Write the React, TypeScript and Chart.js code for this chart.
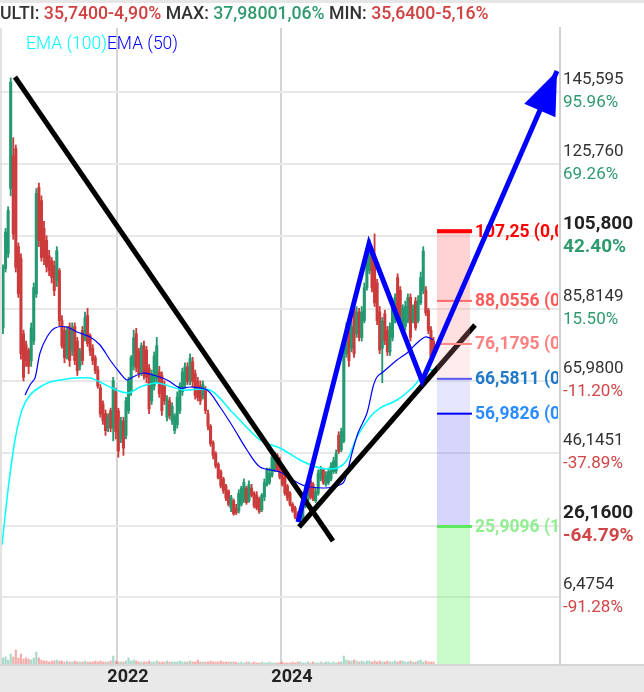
import React, { useEffect, useRef } from 'react';
import { Chart, registerables } from 'chart.js';

Chart.register(...registerables);

// ---------- candle data (weekly-ish, price) ----------
const FIRST_CANDLE_YEAR = 2020.6098;
const CANDLE_STEP = 1 / 32;

const OPEN = [
  80.6, 97, 101, 119, 128, 130, 103, 99.7, 79, 76, 74.5, 71.6, 77, 90, 119.3, 115.7,
  108, 104.7, 100.5, 99.2, 97.8, 93.7, 96.4, 82.6, 79.9, 73, 81, 74.3, 81, 77, 70, 79.9, 77.9, 84, 78.5, 75, 72.4, 69, 64.1, 59.7, 57,
  53, 57.8, 53, 63, 57.8, 50, 55, 51, 57.8, 63.3, 70, 79, 74.3, 68.5, 75.7, 74.5, 69.5, 60.5, 64.6, 66.5,
  68.5, 67.5, 64.6, 56, 60.5, 55, 52.3, 54, 57.8, 63, 65, 69.9, 66, 71.3, 68, 66, 64.6, 62, 63.3, 57, 53.5, 49, 46, 43, 41, 39, 37, 35.7, 31, 33,
  31, 30.2, 32, 33, 36.5, 33, 36.5, 35, 34.5, 33.5, 30.5, 34, 37.5, 38, 40, 41.5, 45.5, 44, 41.5, 39.5, 37, 35, 32, 31, 29.5, 27.8, 28.5, 31.5, 33, 38.5, 37.5, 33, 35, 39, 41.5, 37.5, 38, 39, 41, 41.2, 51, 47,
  49.5, 73.5, 82.6, 75, 86, 79, 85, 78, 82.6, 91.7, 96.4, 102, 98.4, 93, 85, 75, 84.5, 79.9, 74, 78, 83, 94.5, 91, 80.5, 81, 82.6, 89, 82.6, 88, 82.6, 87.5, 90.9, 90.9, 85.4, 79.9, 77,
];
const HIGH = [
  98, 108, 114, 149.5, 133, 131, 104, 101, 80, 77, 75, 82, 93, 119, 120.5, 117,
  110, 106, 102, 100, 99, 103, 97, 84, 81, 81, 82, 82, 82, 78, 75, 81, 85, 86, 79, 76, 73, 70, 65, 60.5, 58,
  57, 58.5, 67, 64, 58.5, 56, 56, 61.5, 67, 73, 80, 80.5, 75, 76.5, 77, 75.5, 70.5, 69, 74, 78,
  70, 68.5, 66, 62, 61.5, 60, 57, 63, 65.5, 69.5, 71, 71, 73.5, 72.5, 69, 67, 66, 66, 64.5, 58, 54, 49.5, 46.5, 43.5, 41.5, 39.5, 37.5, 36, 34.5, 33.5,
  32, 36, 37, 39, 37, 38.5, 37.5, 35.5, 35.5, 34, 35, 39, 42, 42, 46, 46.5, 46, 45, 42, 40, 37.5, 35.5, 32.5, 31.5, 30, 31, 33, 37.5, 38.5, 39.5, 38, 36.5, 41.5, 42.5, 42, 41, 42, 43.5, 45, 47, 52, 53,
  76.5, 82, 84, 82.5, 87.5, 86.5, 86, 86.5, 93, 100, 105, 103, 106.5, 94, 86.5, 83.5, 85.5, 81, 82, 88.5, 90, 95.5, 92, 87, 88, 90, 90, 87, 89, 89.5, 96, 103, 92, 86, 81, 78,
];
const LOW = [
  79, 96, 100, 117, 105, 96, 89, 72, 66, 70, 68, 70, 76, 89, 103, 99,
  98, 96, 95, 93, 89.5, 92, 81, 75, 71, 72, 70, 73, 70.5, 67.5, 69, 70.5, 77, 75.5, 73, 70.5, 68, 64, 56, 54, 51,
  52, 52, 49.5, 50, 45, 49, 45.5, 50, 57, 62, 69, 68.5, 67, 67.5, 66.5, 65.5, 57, 59.5, 63.5, 65.5,
  61.5, 56.5, 59.5, 55, 55.5, 54, 51.5, 53, 57, 62, 64, 65, 65, 64.5, 61, 60.5, 59.5, 61, 57, 52.5, 48, 44.5, 42, 39, 36.5, 35, 33, 31.5, 30, 29,
  29.2, 29.6, 31.5, 32.5, 32, 32.5, 34, 31, 30.5, 29.5, 30, 33, 37, 37.5, 39.5, 41, 41, 39, 37, 34.5, 33, 31.5, 29.8, 28, 27.2, 27, 28, 31, 32, 33.5, 33, 32.5, 34.5, 38.5, 37.5, 37, 37.5, 38.5, 40.5, 40.5, 46, 46.5,
  49, 72.5, 70, 74, 72.5, 78, 77, 77, 82, 91, 95.5, 90.5, 86.5, 81.5, 73.5, 65.5, 76, 73, 73, 77, 82, 82, 82, 80, 80, 82, 77, 82, 80, 82, 87, 90, 84, 79, 72, 72.5,
];
const CLOSE = [
  97.1, 107, 113, 148.3, 106.5, 97.3, 90, 73.5, 67, 71.6, 70, 80.6, 91.7, 117.7, 104.7, 100,
  100, 97.4, 96.4, 94.5, 90.9, 101.9, 82.6, 75.7, 72.4, 79.9, 71.6, 80.6, 71.6, 68.8, 74.3, 71.6, 83.4, 76.3, 74.3, 71.6, 68.8, 64.6, 56.9, 55, 52.3,
  56, 53, 66, 52, 46.7, 55, 47.5, 60.5, 66, 72.4, 77.9, 69.6, 68, 75.7, 67.4, 67, 58.3, 68, 72.9, 75.7,
  62.5, 57.8, 60.5, 61, 56.4, 59, 56.4, 61.6, 64.6, 68.5, 69.9, 65.8, 72.2, 65.8, 62, 61.4, 60.5, 65, 57.8, 53.5, 48.7, 45.5, 42.6, 39.3, 37.1, 35.7, 33.7, 32, 34, 29.4,
  29.7, 35, 36.5, 38, 32.5, 37.5, 34.5, 31.6, 31, 30, 34.5, 38, 41.5, 40.5, 45, 45.5, 41.5, 39.5, 37.5, 35, 33.7, 32, 30.2, 28.5, 27.6, 30.5, 32, 36.5, 37.5, 34, 33.5, 35.5, 40.5, 41.5, 38, 40, 41, 42.5, 44, 46, 46.5, 52,
  75, 80.6, 71.6, 81, 73.5, 85, 77.9, 85, 91.7, 99, 103.8, 91.7, 87.5, 82.6, 74.5, 82.5, 77.1, 74, 81, 87.5, 89, 82.6, 82.6, 86, 86.5, 89, 78, 86, 80.7, 88, 94.5, 101.8, 84.7, 79.9, 72.7, 73.5,
];
const VOLUME = [
  6, 7, 4, 10, 7, 14, 6, 10, 5, 6, 5, 4, 6, 12, 6, 4,
  3, 3, 2, 3, 3, 4, 3, 3, 2, 3, 2, 2, 3, 2, 2, 2, 3, 2, 2, 2, 3, 2, 3, 2, 2,
  2, 3, 8, 3, 2, 2, 2, 3, 6, 3, 4, 3, 2, 2, 2, 2, 3, 2, 2, 3,
  2, 2, 2, 3, 2, 2, 2, 2, 3, 2, 2, 2, 3, 2, 2, 4, 2, 2, 2, 2, 3, 2, 2, 2, 3, 2, 2, 2, 2, 2,
  2, 1, 2, 1, 2, 2, 1, 2, 1, 1, 2, 1, 1, 2, 1, 1, 1, 1, 2, 1, 1, 1, 2, 1, 2, 2, 1, 1, 2, 1, 2, 1, 1, 2, 1, 2, 2, 1, 2, 1, 2, 2,
  8, 4, 3, 3, 4, 3, 2, 3, 2, 3, 3, 2, 3, 2, 3, 2, 2, 3, 2, 2, 3, 2, 3, 3, 2, 2, 3, 2, 2, 3, 4, 2, 3, 2, 2, 2,
];

// ---------- moving averages ----------
const EMA50_YEARS = [
  2020.878, 2020.939, 2021.0, 2021.061, 2021.146, 2021.244, 2021.39, 2021.512, 2021.671, 2021.793, 2021.915, 2022.037,
  2022.122, 2022.195, 2022.317, 2022.439, 2022.61, 2022.768, 2022.89, 2023.098, 2023.256, 2023.415, 2023.585, 2023.744,
  2023.988, 2024.146, 2024.293, 2024.512, 2024.634, 2024.756, 2024.805, 2024.866, 2024.939, 2025.049, 2025.122, 2025.171,
  2025.244, 2025.415, 2025.537, 2025.659, 2025.756, 2025.817, 2025.854,
];
const EMA50_VALUES = [
  62.1, 64.9, 66.81, 73.69, 78.1, 80.58, 80.86, 79.48, 78.1, 75.9, 71.77, 68.19,
  66.26, 67.09, 68.19, 67.64, 66.26, 64.05, 64.33, 63.5, 58.82, 53.31, 46.97, 42.29,
  40.91, 38.71, 37.06, 36.51, 36.78, 37.89, 40.64, 46.15, 51.66, 57.17, 64.33, 67.09,
  68.46, 71.77, 73.7, 76.45, 78.1, 77.83, 77.28,
];
const EMA100_YEARS = [
  2020.598, 2020.671, 2020.756, 2020.841, 2020.939, 2021.061, 2021.183, 2021.305, 2021.488, 2021.671, 2021.793, 2021.939,
  2022.134, 2022.28, 2022.488, 2022.805, 2023.134, 2023.415, 2023.744, 2023.988, 2024.232, 2024.476, 2024.683, 2024.805,
  2024.927, 2025.085, 2025.207, 2025.415, 2025.61, 2025.732, 2025.817, 2025.854,
];
const EMA100_VALUES = [
  20.8, 35.96, 49.73, 58.0, 62.12, 64.33, 65.71, 66.26, 66.81, 66.81, 65.71, 64.05,
  62.68, 64.33, 65.43, 63.5, 63.5, 57.17, 49.73, 47.53, 44.22, 42.02, 42.02, 44.22,
  50.56, 56.06, 58.54, 60.75, 64.33, 67.64, 69.01, 69.01,
];

// ---------- drawings ----------
const TREND_DOWN_YEARS = [2020.756, 2024.634];
const TREND_DOWN_VALUES = [149.73, 21.9];
const TREND_UP_YEARS = [2024.22, 2026.366];
const TREND_UP_VALUES = [25.76, 81.41];
const WAVE_YEARS = [2024.207, 2025.073, 2025.72, 2027.366];
const WAVE_VALUES = [27.14, 103.8, 65.98, 151.38];

// ---------- Fibonacci retracement ----------
const FIB_LEVELS = [107.25, 88.0556, 76.1795, 66.5811, 56.9826, 25.9096];
const FIB_LABELS = ['107,25 (0,000)', '88,0556 (0,236)', '76,1795 (0,382)', '66,5811 (0,500)', '56,9826 (0,618)', '25,9096 (1,000)'];
const FIB_LINE_COLORS = ['#ff0000', '#ff6b6b', '#ff8a8a', '#5a5af0', '#0000ff', '#5ee85e'];
const FIB_LINE_WIDTHS = [4, 2, 2, 2, 2, 3];
const FIB_TEXT_COLORS = ['#ff0000', '#ff5a5a', '#ff8080', '#1f78c8', '#2a8cff', '#90ee90'];
const FIB_FILLS = ['rgba(255,120,120,0.33)', 'rgba(255,140,140,0.27)', 'rgba(255,160,160,0.2)', 'rgba(90,90,255,0.15)', 'rgba(70,70,240,0.22)', 'rgba(100,240,100,0.35)'];
const FIB_BOX_YEARS = [2025.902, 2026.305];
const FIB_LINE_END_YEAR = 2026.329;
const FIB_LABEL_YEAR = 2026.366;

// ---------- axes ----------
const YEAR_TICKS = [2022, 2024];
const X_MIN = 2020.5976;
const X_MAX = 2027.4024;
const Y_MIN = -11.98;
const Y_MAX = 163.23;
const PRICE_TICKS = [145.595, 125.76, 105.8, 85.8149, 65.98, 46.1451, 26.16, 6.4754];
const PRICE_TICK_LABELS = ['145,595', '125,760', '105,800', '85,8149', '65,9800', '46,1451', '26,1600', '6,4754'];
const PRICE_TICK_PCTS = ['95.96%', '69.26%', '42.40%', '15.50%', '-11.20%', '-37.89%', '-64.79%', '-91.28%'];
const PRICE_TICK_BOLD = [false, false, true, false, false, false, true, false];

const UP = '#23996f';
const DOWN = '#cc3b3b';

export default function App() {
  const ref = useRef<HTMLCanvasElement>(null);

  useEffect(() => {
    const canvas = ref.current!;
    const xs = OPEN.map((_, i) => FIRST_CANDLE_YEAR + i * CANDLE_STEP);
    const isUp = CLOSE.map((c, i) => c >= OPEN[i]);
    const candleColors = isUp.map((u) => (u ? UP : DOWN));
    const volColors = isUp.map((u) => (u ? 'rgba(38,160,122,0.4)' : 'rgba(225,70,70,0.45)'));

    const pts = (xv: number[], yv: number[]) => xv.map((x, i) => ({ x, y: yv[i] }));

    const datasets: any[] = [
      {
        type: 'line', label: 'wave', data: pts(WAVE_YEARS, WAVE_VALUES), borderColor: '#0000ff', borderWidth: 5,
        pointRadius: 0, borderJoinStyle: 'miter', tension: 0, order: 1, yAxisID: 'y',
      },
      {
        type: 'line', label: 'trendUp', data: pts(TREND_UP_YEARS, TREND_UP_VALUES), borderColor: '#000', borderWidth: 5,
        pointRadius: 0, order: 4, yAxisID: 'y',
      },
      {
        type: 'line', label: 'trendDown', data: pts(TREND_DOWN_YEARS, TREND_DOWN_VALUES), borderColor: '#000', borderWidth: 5,
        pointRadius: 0, order: 5, yAxisID: 'y',
      },
      {
        type: 'line', label: 'EMA (50)', data: pts(EMA50_YEARS, EMA50_VALUES), borderColor: '#0000ff', borderWidth: 1.2,
        pointRadius: 0, tension: 0.3, order: 7, yAxisID: 'y',
      },
      {
        type: 'line', label: 'EMA (100)', data: pts(EMA100_YEARS, EMA100_VALUES), borderColor: '#00ffff', borderWidth: 1.5,
        pointRadius: 0, tension: 0.3, order: 8, yAxisID: 'y',
      },
      {
        type: 'bar', label: 'body', data: xs.map((x, i) => ({ x, y: [Math.min(OPEN[i], CLOSE[i]), Math.max(OPEN[i], CLOSE[i])] })),
        backgroundColor: candleColors, barThickness: 2.4, grouped: false, order: 10, yAxisID: 'y', borderWidth: 0,
      },
      {
        type: 'bar', label: 'wick', data: xs.map((x, i) => ({ x, y: [LOW[i], HIGH[i]] })),
        backgroundColor: candleColors, barThickness: 1.2, grouped: false, order: 11, yAxisID: 'y', borderWidth: 0,
      },
      {
        type: 'bar', label: 'volume', data: xs.map((x, i) => ({ x, y: VOLUME[i] })),
        backgroundColor: volColors, barThickness: 1.5, grouped: false, order: 12, yAxisID: 'yv', borderWidth: 0,
      },
    ];

    const bgPlugin = {
      id: 'bg',
      beforeDraw(chart: any) {
        const { ctx, width, height } = chart;
        ctx.save();
        ctx.fillStyle = '#ffffff';
        ctx.fillRect(0, 0, width, height);
        ctx.fillStyle = '#e6e6e6';
        ctx.fillRect(0, 0, width, 3);
        const b = chart.chartArea.bottom;
        ctx.fillStyle = '#e9e9e9';
        ctx.fillRect(0, b, width, height - b);
        ctx.fillStyle = '#d6d6d6';
        ctx.fillRect(0, b, width, 2);
        ctx.fillStyle = '#e2e2e2';
        ctx.fillRect(0, chart.chartArea.top, 2, b - chart.chartArea.top);
        ctx.restore();
      },
    };

    const drawFib = (chart: any) => {
      const { ctx, chartArea } = chart;
      const x = chart.scales.x;
      const y = chart.scales.y;
      ctx.save();
      ctx.beginPath();
      ctx.rect(chartArea.left, chartArea.top, chartArea.right - chartArea.left - 2, chartArea.bottom - chartArea.top);
      ctx.clip();
      const xl = x.getPixelForValue(FIB_BOX_YEARS[0]);
      const xr = x.getPixelForValue(FIB_BOX_YEARS[1]);
      FIB_LEVELS.forEach((lv, i) => {
        const top = y.getPixelForValue(lv);
        const bot = i < FIB_LEVELS.length - 1 ? y.getPixelForValue(FIB_LEVELS[i + 1]) : chartArea.bottom;
        ctx.fillStyle = FIB_FILLS[i];
        ctx.fillRect(xl, top, xr - xl, bot - top);
      });
      const xe = x.getPixelForValue(FIB_LINE_END_YEAR);
      const xt = x.getPixelForValue(FIB_LABEL_YEAR);
      ctx.font = 'bold 17.5px Roboto';
      ctx.textBaseline = 'middle';
      ctx.textAlign = 'left';
      FIB_LEVELS.forEach((lv, i) => {
        const py = y.getPixelForValue(lv);
        ctx.fillStyle = FIB_LINE_COLORS[i];
        ctx.fillRect(xl, py - FIB_LINE_WIDTHS[i] / 2, xe - xl, FIB_LINE_WIDTHS[i]);
        ctx.fillStyle = FIB_TEXT_COLORS[i];
        ctx.fillText(FIB_LABELS[i], xt, py + 1);
      });
      ctx.restore();
    };

    const drawArrowHead = (chart: any, meta: any) => {
      const { ctx } = chart;
      const n = meta.data.length;
      const p1 = meta.data[n - 2];
      const p2 = meta.data[n - 1];
      const dx = p2.x - p1.x;
      const dy = p2.y - p1.y;
      const len = Math.hypot(dx, dy);
      const ux = dx / len;
      const uy = dy / len;
      const L = 43;
      const W = 17;
      const bx = p2.x - ux * L;
      const by = p2.y - uy * L;
      ctx.save();
      ctx.fillStyle = '#0000ff';
      ctx.beginPath();
      ctx.moveTo(p2.x, p2.y);
      ctx.lineTo(bx - uy * W, by + ux * W);
      ctx.lineTo(bx + uy * W, by - ux * W);
      ctx.closePath();
      ctx.fill();
      ctx.restore();
    };

    const overlayPlugin = {
      id: 'overlay',
      afterDatasetDraw(chart: any, args: any) {
        if (args.index === 1) drawFib(chart);
        if (args.index === 0) drawArrowHead(chart, args.meta);
      },
      afterDraw(chart: any) {
        const { ctx } = chart;
        const y = chart.scales.y;
        ctx.save();
        ctx.textBaseline = 'middle';
        ctx.textAlign = 'left';
        PRICE_TICKS.forEach((v, i) => {
          const py = y.getPixelForValue(v);
          const bold = PRICE_TICK_BOLD[i];
          ctx.font = `${bold ? 'bold 19px' : '17px'} Roboto`;
          ctx.fillStyle = bold ? '#222' : '#333';
          ctx.fillText(PRICE_TICK_LABELS[i], y.left + 3, py - 12);
          ctx.fillStyle = PRICE_TICK_PCTS[i].startsWith('-') ? '#d04545' : '#2e9a6e';
          ctx.fillText(PRICE_TICK_PCTS[i], y.left + 3, py + 11);
        });
        ctx.restore();
      },
    };

    const chart = new Chart(canvas, {
      type: 'line',
      data: { datasets },
      plugins: [bgPlugin, overlayPlugin],
      options: {
        animation: false,
        responsive: true,
        maintainAspectRatio: false,
        events: [],
        layout: { padding: { top: 28, left: 2, right: 0, bottom: 0 } },
        plugins: { legend: { display: false }, tooltip: { enabled: false } },
        scales: {
          x: {
            type: 'linear',
            min: X_MIN,
            max: X_MAX,
            offset: false,
            afterBuildTicks: (s: any) => { s.ticks = YEAR_TICKS.map((value) => ({ value })); },
            ticks: {
              callback: (v: any) => String(v),
              labelOffset: 11,
              padding: 3,
              autoSkip: false,
              maxRotation: 0,
              color: '#222',
              font: { family: 'Roboto', size: 18, weight: 'bold' },
            },
            grid: { color: '#d4d4d4', lineWidth: 2, drawTicks: false, offset: false },
            border: { display: false },
            afterFit: (s: any) => { s.height = 28; },
          },
          y: {
            position: 'right',
            min: Y_MIN,
            max: Y_MAX,
            afterBuildTicks: (s: any) => { s.ticks = PRICE_TICKS.map((value) => ({ value })); },
            ticks: { display: false },
            grid: { color: '#e8e8e8', lineWidth: 2, drawTicks: false },
            border: { display: true, color: '#d0d0d0', width: 2 },
            afterFit: (s: any) => { s.width = 84; },
          },
          yv: { display: false, min: 0, max: 636 },
        },
      } as any,
    });
    return () => chart.destroy();
  }, []);

  return (
    <div style={{ position: 'absolute', left: 0, top: 0, width: 644, height: 692, overflow: 'hidden', background: '#fff' }}>
      <div style={{ position: 'absolute', left: 0, top: 0, width: 644, height: 692 }}>
        <canvas ref={ref} />
      </div>
      <div style={{ position: 'absolute', left: 0, top: 3, whiteSpace: 'nowrap', font: '500 17.7px Roboto', lineHeight: '20px', color: '#333' }}>
        <span>ULTI: </span>
        <span style={{ color: '#d04040' }}>35,7400-4,90%</span>
        <span> MAX: </span>
        <span style={{ color: '#2e9a6e' }}>37,98001,06%</span>
        <span> MIN: </span>
        <span style={{ color: '#d04040' }}>35,6400-5,16%</span>
      </div>
      <div style={{ position: 'absolute', left: 26, top: 33, whiteSpace: 'nowrap', font: '300 17.5px Roboto', lineHeight: '20px' }}>
        <span style={{ color: '#00ffff' }}>EMA (100)</span>
        <span style={{ color: '#0000ff' }}>EMA (50)</span>
      </div>
    </div>
  );
}
